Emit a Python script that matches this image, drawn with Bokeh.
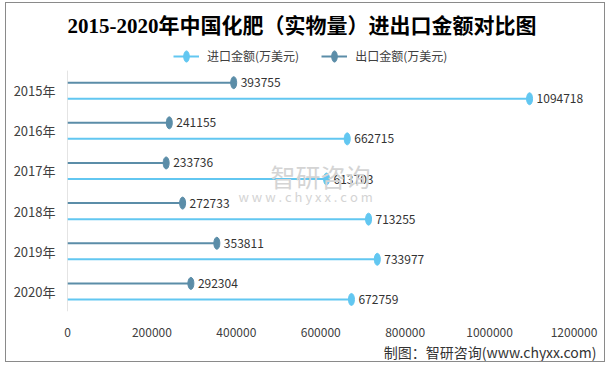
from bokeh.plotting import figure
from bokeh.models import (ColumnDataSource, Range1d, FixedTicker, Label, Legend, LegendItem, Title)
from bokeh.core.properties import value
from bokeh.embed import file_html
from bokeh.resources import INLINE

# ---- data ----
years = ["2015年", "2016年", "2017年", "2018年", "2019年", "2020年"]
import_values = [1094718, 662715, 613703, 713255, 733977, 672759]
export_values = [393755, 241155, 233736, 272733, 353811, 292304]
x_ticks = [0, 200000, 400000, 600000, 800000, 1000000, 1200000]
title_text = "2015-2020年中国化肥（实物量）进出口金额对比图"
import_name = "进口金额(万美元)"
export_name = "出口金额(万美元)"
source_text = "制图：智研咨询(www.chyxx.com)"

IMPORT_COLOR = "#62c7f1"
EXPORT_COLOR = "#5b8da8"
AXIS_COLOR = "#c9c9c9"
FONT = "Noto Sans CJK SC"

n = len(years)
pos = [n - 1 - i for i in range(n)]
exp_y = [p + 0.2 for p in pos]
imp_y = [p - 0.2 for p in pos]

src_imp = ColumnDataSource(dict(y=imp_y, v=import_values, zero=[0] * n,
                                lbl=[str(v) for v in import_values]))
src_exp = ColumnDataSource(dict(y=exp_y, v=export_values, zero=[0] * n,
                                lbl=[str(v) for v in export_values]))

FRAME_W = 529
x_end = 1200000 * FRAME_W / 506.5
TOP_EXTRA = 0.75  # room inside the frame for the legend

p = figure(width=600, height=360, output_backend="svg", toolbar_location=None,
           x_range=Range1d(0, x_end), y_range=Range1d(-0.5, n - 0.5 + TOP_EXTRA),
           min_border_left=61, min_border_right=10, min_border_top=37, min_border_bottom=52)
p.outline_line_color = None
p.grid.visible = False
p.styles = {"border": "1px solid #8a8a8a", "margin-left": "5px", "margin-top": "2px"}

# title
p.title.text = title_text
p.title.align = "left"
p.title.offset = 0
p.title.standoff = 5
p.title.text_font = "Liberation Serif, Noto Sans CJK SC"
p.title.text_font_style = "bold"
p.title.text_font_size = "21px"
p.title.text_color = "#000000"

# axes
p.xaxis.ticker = FixedTicker(ticks=x_ticks)
p.xaxis.axis_line_color = None
p.xaxis.major_tick_line_color = None
p.xaxis.minor_tick_line_color = None
p.xaxis.major_label_standoff = 10
p.xaxis.major_label_text_font = FONT
p.xaxis.major_label_text_font_size = "12px"
p.xaxis.major_label_text_color = "#404040"
p.xaxis.formatter.use_scientific = False

p.yaxis.ticker = FixedTicker(ticks=pos)
p.yaxis.major_label_overrides = {pp: yr for pp, yr in zip(pos, years)}
p.yaxis.axis_line_color = None
p.yaxis.major_tick_line_color = None
p.yaxis.minor_tick_line_color = None
p.yaxis.major_label_standoff = 6
p.yaxis.major_label_text_font = FONT
p.yaxis.major_label_text_font_size = "13px"
p.yaxis.major_label_text_color = "#404040"

# visible axis line only over the category band
p.segment(x0=[0], y0=[-0.5], x1=[0], y1=[n - 0.5], line_color=AXIS_COLOR, line_width=1)

# lollipops
r_imp_line = p.segment(x0="zero", y0="y", x1="v", y1="y", source=src_imp,
                       line_color=IMPORT_COLOR, line_width=2)
r_imp_dot = p.ellipse(x="v", y="y", width=6, height=12, width_units="screen",
                      height_units="screen", source=src_imp, fill_color=IMPORT_COLOR,
                      line_color=IMPORT_COLOR)
r_exp_line = p.segment(x0="zero", y0="y", x1="v", y1="y", source=src_exp,
                       line_color=EXPORT_COLOR, line_width=2)
r_exp_dot = p.ellipse(x="v", y="y", width=6, height=12, width_units="screen",
                      height_units="screen", source=src_exp, fill_color=EXPORT_COLOR,
                      line_color=EXPORT_COLOR)

for s in (src_imp, src_exp):
    p.text(x="v", y="y", text="lbl", source=s, x_offset=7, text_baseline="middle",
           text_align="left", text_font=value(FONT), text_font_size="12px",
           text_color="#333333")

# watermark
p.add_layout(Label(x=203, y=136, x_units="screen", y_units="screen", text="智研咨询",
                   text_font=FONT, text_font_size="25px", text_color="#d4d4d4",
                   text_baseline="middle", text_align="left"))
p.add_layout(Label(x=171, y=115, x_units="screen", y_units="screen",
                   text="w w w . c h y x x . c o m",
                   text_font=FONT, text_font_size="13px", text_color="#d4d4d4",
                   text_baseline="middle", text_align="left"))

# source (below)
p.add_layout(Title(text=source_text, align="right", text_font=FONT, text_font_size="14px",
                   text_color="#333333", text_font_style="normal", standoff=0), "below")

# legend (inside the top strip of the frame)
legend = Legend(items=[LegendItem(label=import_name, renderers=[r_imp_line, r_imp_dot]),
                       LegendItem(label=export_name, renderers=[r_exp_line, r_exp_dot])],
                location=(106, 247), orientation="horizontal",
                glyph_width=26, glyph_height=14, label_standoff=8, spacing=22,
                padding=0, margin=0, border_line_color=None, background_fill_alpha=0,
                label_text_font=FONT, label_text_font_size="12px",
                label_text_color="#404040", label_height=14)
p.add_layout(legend, "center")

open("out.html", "w").write(file_html(p, INLINE))
